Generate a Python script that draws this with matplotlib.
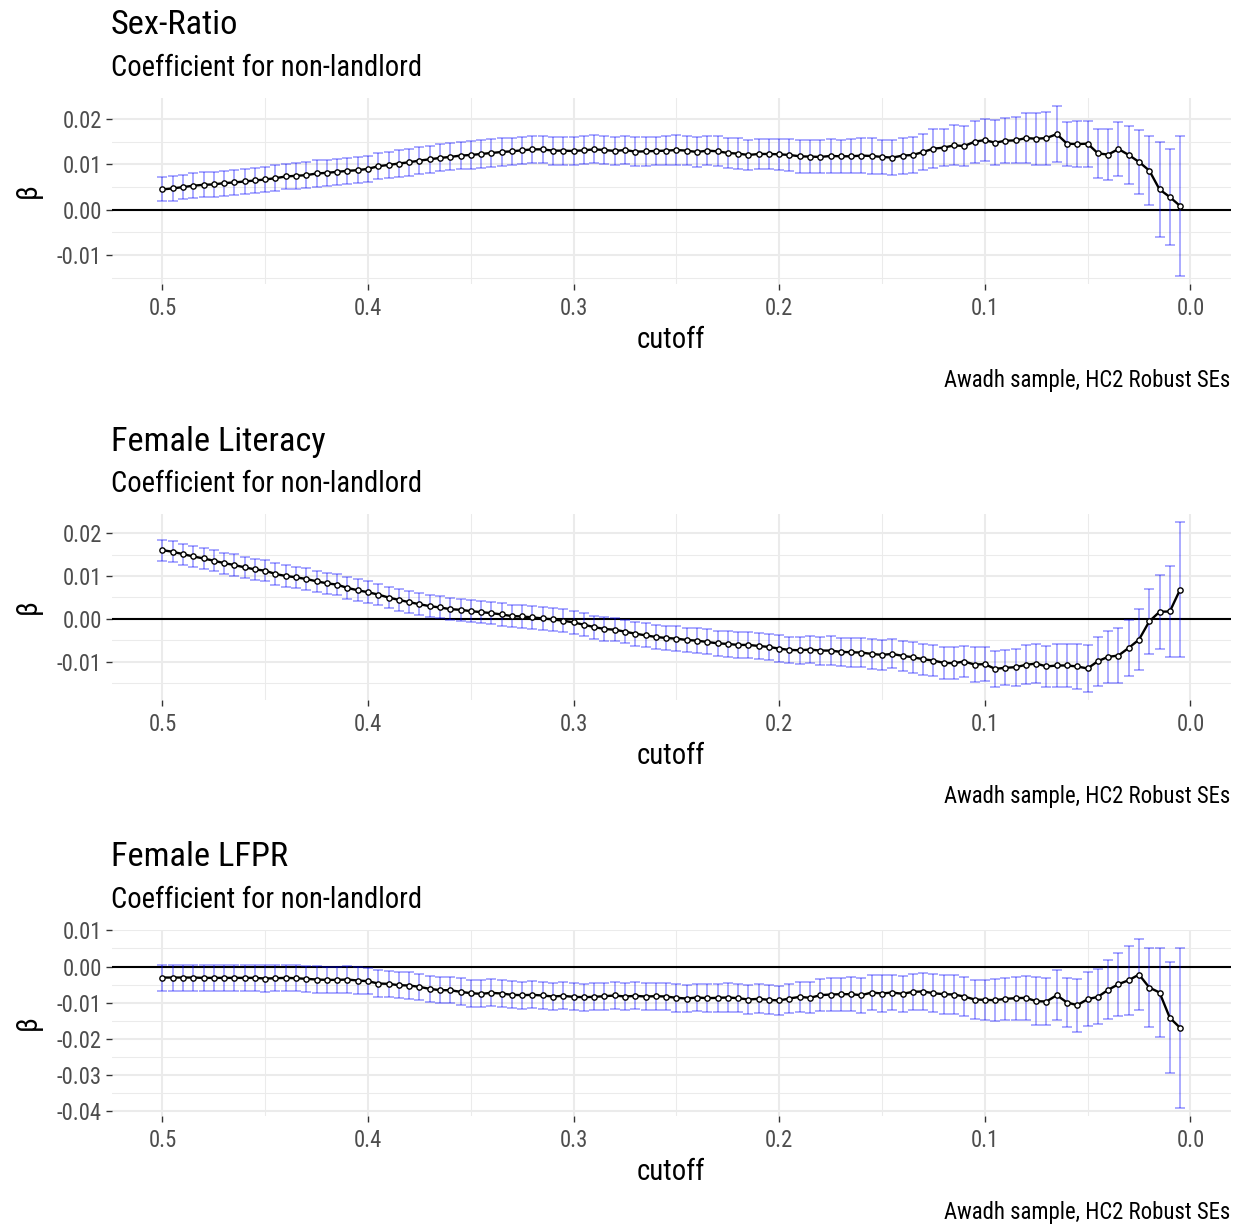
import matplotlib
matplotlib.use("Agg")
import matplotlib.pyplot as plt
import numpy as np

plt.rcParams['font.family'] = ['Roboto Condensed', 'Roboto', 'DejaVu Sans']

# ---------------- data ----------------
cutoff = [0.500, 0.495, 0.490, 0.485, 0.480, 0.475, 0.470, 0.465, 0.460, 0.455,
          0.450, 0.445, 0.440, 0.435, 0.430, 0.425, 0.420, 0.415, 0.410, 0.405,
          0.400, 0.395, 0.390, 0.385, 0.380, 0.375, 0.370, 0.365, 0.360, 0.355,
          0.350, 0.345, 0.340, 0.335, 0.330, 0.325, 0.320, 0.315, 0.310, 0.305,
          0.300, 0.295, 0.290, 0.285, 0.280, 0.275, 0.270, 0.265, 0.260, 0.255,
          0.250, 0.245, 0.240, 0.235, 0.230, 0.225, 0.220, 0.215, 0.210, 0.205,
          0.200, 0.195, 0.190, 0.185, 0.180, 0.175, 0.170, 0.165, 0.160, 0.155,
          0.150, 0.145, 0.140, 0.135, 0.130, 0.125, 0.120, 0.115, 0.110, 0.105,
          0.100, 0.095, 0.090, 0.085, 0.080, 0.075, 0.070, 0.065, 0.060, 0.055,
          0.050, 0.045, 0.040, 0.035, 0.030, 0.025, 0.020, 0.015, 0.010, 0.005]

titles = ["Sex-Ratio", "Female Literacy", "Female LFPR"]
subtitle = "Coefficient for non-landlord"
caption = "Awadh sample, HC2 Robust SEs"
x_label = "cutoff"
y_label = "\u03b2"

sex_ratio_est = [
    0.00445, 0.00467, 0.00496, 0.00526, 0.00547, 0.00555, 0.00584, 0.00599, 0.00620, 0.00642,
    0.00664, 0.00693, 0.00730, 0.00745, 0.00759, 0.00796, 0.00810, 0.00832, 0.00854, 0.00869,
    0.00898, 0.00956, 0.00985, 0.01015, 0.01044, 0.01080, 0.01109, 0.01139, 0.01161, 0.01190,
    0.01204, 0.01226, 0.01248, 0.01270, 0.01285, 0.01307, 0.01328, 0.01328, 0.01299, 0.01299,
    0.01292, 0.01307, 0.01328, 0.01314, 0.01292, 0.01314, 0.01277, 0.01285, 0.01292, 0.01299,
    0.01314, 0.01299, 0.01270, 0.01299, 0.01285, 0.01248, 0.01234, 0.01204, 0.01226, 0.01226,
    0.01219, 0.01204, 0.01175, 0.01168, 0.01161, 0.01182, 0.01175, 0.01175, 0.01190, 0.01182,
    0.01161, 0.01146, 0.01190, 0.01204, 0.01270, 0.01343, 0.01365, 0.01416, 0.01401, 0.01496,
    0.01533, 0.01474, 0.01518, 0.01526, 0.01577, 0.01562, 0.01577, 0.01664, 0.01453, 0.01445,
    0.01453, 0.01241, 0.01212, 0.01336, 0.01204, 0.01051, 0.00861, 0.00445, 0.00277, 0.00080]
sex_ratio_ci = [
    0.00266, 0.00268, 0.00270, 0.00272, 0.00274, 0.00276, 0.00277, 0.00278, 0.00280, 0.00281,
    0.00282, 0.00283, 0.00284, 0.00285, 0.00286, 0.00287, 0.00288, 0.00288, 0.00289, 0.00290,
    0.00290, 0.00291, 0.00292, 0.00294, 0.00295, 0.00296, 0.00297, 0.00298, 0.00299, 0.00300,
    0.00301, 0.00302, 0.00302, 0.00303, 0.00303, 0.00304, 0.00304, 0.00305, 0.00306, 0.00307,
    0.00308, 0.00309, 0.00310, 0.00311, 0.00312, 0.00313, 0.00314, 0.00315, 0.00316, 0.00318,
    0.00320, 0.00322, 0.00324, 0.00326, 0.00328, 0.00332, 0.00334, 0.00336, 0.00338, 0.00340,
    0.00345, 0.00352, 0.00358, 0.00362, 0.00365, 0.00366, 0.00368, 0.00372, 0.00380, 0.00388,
    0.00372, 0.00394, 0.00398, 0.00391, 0.00401, 0.00423, 0.00412, 0.00438, 0.00445, 0.00467,
    0.00460, 0.00493, 0.00493, 0.00507, 0.00547, 0.00573, 0.00584, 0.00609, 0.00482, 0.00500,
    0.00511, 0.00536, 0.00566, 0.00595, 0.00646, 0.00712, 0.00766, 0.01040, 0.01058, 0.01533]

literacy_est = [
    0.01605, 0.01566, 0.01512, 0.01457, 0.01411, 0.01357, 0.01302, 0.01256, 0.01202, 0.01155,
    0.01124, 0.01047, 0.01000, 0.00969, 0.00930, 0.00876, 0.00829, 0.00798, 0.00721, 0.00667,
    0.00620, 0.00566, 0.00496, 0.00442, 0.00388, 0.00341, 0.00295, 0.00264, 0.00225, 0.00209,
    0.00178, 0.00155, 0.00132, 0.00101, 0.00062, 0.00054, 0.00031, 0.00008, -0.00016, -0.00047,
    -0.00085, -0.00140, -0.00194, -0.00240, -0.00256, -0.00302, -0.00349, -0.00388, -0.00426, -0.00450,
    -0.00465, -0.00496, -0.00512, -0.00543, -0.00574, -0.00589, -0.00612, -0.00612, -0.00636, -0.00659,
    -0.00698, -0.00729, -0.00736, -0.00721, -0.00744, -0.00744, -0.00775, -0.00783, -0.00791, -0.00822,
    -0.00845, -0.00822, -0.00868, -0.00899, -0.00946, -0.00977, -0.01031, -0.01039, -0.01000, -0.01070,
    -0.01062, -0.01171, -0.01147, -0.01132, -0.01078, -0.01047, -0.01116, -0.01093, -0.01093, -0.01116,
    -0.01163, -0.00992, -0.00891, -0.00860, -0.00682, -0.00488, -0.00062, 0.00163, 0.00171, 0.00682]
literacy_ci = [
    0.00244, 0.00244, 0.00245, 0.00245, 0.00246, 0.00246, 0.00247, 0.00247, 0.00248, 0.00248,
    0.00249, 0.00249, 0.00250, 0.00250, 0.00251, 0.00251, 0.00252, 0.00252, 0.00253, 0.00253,
    0.00254, 0.00254, 0.00255, 0.00255, 0.00256, 0.00256, 0.00257, 0.00257, 0.00258, 0.00258,
    0.00259, 0.00259, 0.00260, 0.00261, 0.00262, 0.00263, 0.00264, 0.00265, 0.00266, 0.00267,
    0.00268, 0.00269, 0.00270, 0.00272, 0.00274, 0.00276, 0.00278, 0.00280, 0.00282, 0.00284,
    0.00286, 0.00288, 0.00290, 0.00292, 0.00294, 0.00296, 0.00298, 0.00300, 0.00303, 0.00306,
    0.00310, 0.00314, 0.00318, 0.00322, 0.00326, 0.00330, 0.00334, 0.00338, 0.00342, 0.00346,
    0.00349, 0.00337, 0.00349, 0.00360, 0.00360, 0.00368, 0.00368, 0.00376, 0.00364, 0.00399,
    0.00399, 0.00419, 0.00407, 0.00430, 0.00457, 0.00446, 0.00473, 0.00496, 0.00512, 0.00516,
    0.00543, 0.00574, 0.00612, 0.00636, 0.00651, 0.00709, 0.00767, 0.00872, 0.01054, 0.01570]

lfpr_est = [
    -0.00304, -0.00304, -0.00304, -0.00304, -0.00313, -0.00313, -0.00313, -0.00313, -0.00313, -0.00313,
    -0.00331, -0.00322, -0.00313, -0.00322, -0.00340, -0.00359, -0.00368, -0.00368, -0.00359, -0.00386,
    -0.00405, -0.00469, -0.00478, -0.00515, -0.00524, -0.00561, -0.00616, -0.00653, -0.00653, -0.00699,
    -0.00736, -0.00754, -0.00727, -0.00745, -0.00782, -0.00791, -0.00782, -0.00800, -0.00828, -0.00810,
    -0.00837, -0.00846, -0.00837, -0.00819, -0.00800, -0.00828, -0.00810, -0.00828, -0.00819, -0.00828,
    -0.00865, -0.00883, -0.00856, -0.00874, -0.00865, -0.00856, -0.00874, -0.00911, -0.00892, -0.00920,
    -0.00938, -0.00883, -0.00837, -0.00865, -0.00791, -0.00773, -0.00764, -0.00764, -0.00791, -0.00718,
    -0.00745, -0.00718, -0.00754, -0.00699, -0.00690, -0.00736, -0.00764, -0.00773, -0.00828, -0.00911,
    -0.00920, -0.00929, -0.00892, -0.00874, -0.00865, -0.00957, -0.00966, -0.00791, -0.00994, -0.01067,
    -0.00902, -0.00837, -0.00644, -0.00488, -0.00377, -0.00221, -0.00580, -0.00718, -0.01417, -0.01693]
lfpr_ci = [
    0.00359, 0.00359, 0.00360, 0.00360, 0.00360, 0.00361, 0.00361, 0.00361, 0.00362, 0.00362,
    0.00362, 0.00363, 0.00363, 0.00363, 0.00364, 0.00364, 0.00364, 0.00365, 0.00365, 0.00365,
    0.00366, 0.00366, 0.00366, 0.00367, 0.00367, 0.00367, 0.00368, 0.00368, 0.00368, 0.00369,
    0.00369, 0.00369, 0.00370, 0.00370, 0.00370, 0.00371, 0.00371, 0.00371, 0.00372, 0.00372,
    0.00372, 0.00373, 0.00373, 0.00374, 0.00374, 0.00375, 0.00376, 0.00377, 0.00378, 0.00379,
    0.00380, 0.00382, 0.00384, 0.00386, 0.00388, 0.00390, 0.00392, 0.00394, 0.00396, 0.00398,
    0.00400, 0.00410, 0.00420, 0.00430, 0.00440, 0.00450, 0.00460, 0.00470, 0.00480, 0.00490,
    0.00506, 0.00492, 0.00506, 0.00506, 0.00520, 0.00520, 0.00538, 0.00538, 0.00552, 0.00552,
    0.00561, 0.00584, 0.00584, 0.00598, 0.00616, 0.00658, 0.00658, 0.00690, 0.00690, 0.00736,
    0.00745, 0.00759, 0.00819, 0.00874, 0.00952, 0.00980, 0.01104, 0.01242, 0.01536, 0.02208]

x_ticks = [0.5, 0.4, 0.3, 0.2, 0.1, 0.0]
x_ticklabels = ["0.5", "0.4", "0.3", "0.2", "0.1", "0.0"]
y_ticks = [[-0.01, 0.00, 0.01, 0.02],
           [-0.01, 0.00, 0.01, 0.02],
           [-0.04, -0.03, -0.02, -0.01, 0.00, 0.01]]
y_ticklabels = [["-0.01", "0.00", "0.01", "0.02"],
                ["-0.01", "0.00", "0.01", "0.02"],
                ["-0.04", "-0.03", "-0.02", "-0.01", "0.00", "0.01"]]
y_limits = [(-0.0164, 0.0246), (-0.0190, 0.0245), (-0.0413, 0.0101)]

series = [(sex_ratio_est, sex_ratio_ci), (literacy_est, literacy_ci), (lfpr_est, lfpr_ci)]

# ---------------- figure ----------------
W, H = 1242, 1228
fig = plt.figure(figsize=(W / 100, H / 100), dpi=100)

B = 20.6
grid_col = "#EBEBEB"
tick_col = "#4D4D4D"
x = np.array(cutoff)

for k in range(3):
    off = 416 * k
    top = 98 + off
    ph = 186
    ax = fig.add_axes([111.5 / W, 1 - (top + ph) / H, (1231 - 111.5) / W, ph / H])
    est = np.array(series[k][0])
    ci = np.array(series[k][1])

    ax.set_xlim(0.52475, -0.01975)
    ax.set_xticks(x_ticks)
    ax.set_xticklabels(x_ticklabels)
    ax.set_xticks([0.45, 0.35, 0.25, 0.15, 0.05], minor=True)
    yt = y_ticks[k]
    ax.set_yticks(yt)
    ax.set_yticklabels(y_ticklabels[k])
    ymin = [t - 0.005 for t in yt] + [yt[-1] + 0.005]
    ax.set_yticks(ymin, minor=True)
    ax.set_ylim(*y_limits[k])

    ax.grid(True, which="major", color=grid_col, lw=1.5)
    ax.grid(True, which="minor", color=grid_col, lw=0.75)
    ax.set_axisbelow(True)
    for s in ax.spines.values():
        s.set_visible(False)
    ax.tick_params(which="major", length=4.0, width=1.0, color="#333333",
                   labelsize=16.3, labelcolor=tick_col, pad=3)
    ax.tick_params(axis="x", which="major", pad=5.5)
    ax.tick_params(which="minor", length=0)

    ax.axhline(0, color="black", lw=1.5, zorder=2)
    ax.errorbar(x, est, yerr=ci, fmt="none", ecolor=(0.0, 0.0, 1.0, 0.36),
                elinewidth=1.3, capsize=3.7, capthick=1.3, zorder=3)
    ax.plot(x, est, color="black", lw=1.7, marker="o", ms=3.8,
            mfc="white", mec="black", mew=1.0, zorder=4)

    fig.text(111 / W, 1 - (34.5 + off) / H, titles[k], fontsize=B * 1.2,
             va="baseline", ha="left", color="black")
    fig.text(111 / W, 1 - (76 + off) / H, subtitle, fontsize=B,
             va="baseline", ha="left", color="black")
    fig.text(28 / W, 1 - (top + ph / 2) / H, y_label, fontsize=B, rotation=90,
             va="center", ha="center", color="black")
    fig.text(671 / W, 1 - (340 + off) / H, x_label, fontsize=B,
             va="center", ha="center", color="black")
    fig.text(1230 / W, 1 - (380 + off) / H, caption, fontsize=16.4,
             va="center", ha="right", color="black")

fig.savefig("out.png", dpi=100)
